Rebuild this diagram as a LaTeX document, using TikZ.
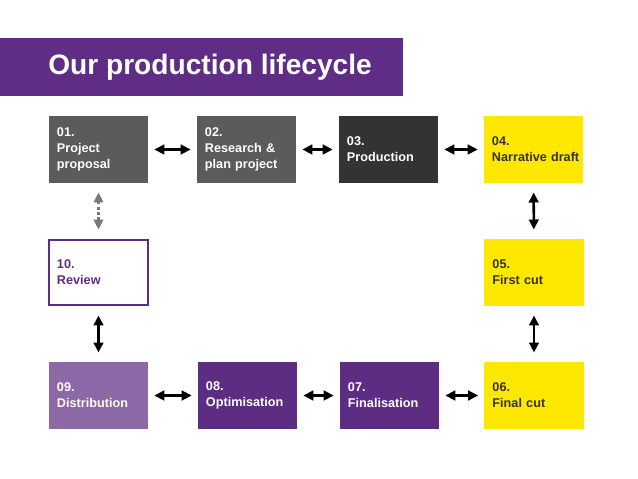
\documentclass[tikz,border=0pt]{standalone}
\usepackage{fontspec}
\setmainfont{Liberation Sans}
\usetikzlibrary{arrows.meta}
\definecolor{titlepurple}{HTML}{5F2C86}
\definecolor{stepgrey}{HTML}{5B5B5B}
\definecolor{stepdark}{HTML}{333333}
\definecolor{stepyellow}{HTML}{FFE800}
\definecolor{steppurple}{HTML}{5C2D83}
\definecolor{steplilac}{HTML}{8C68A6}
\definecolor{arrowgrey}{HTML}{787878}

\begin{document}
\begin{tikzpicture}[x=0.025cm,y=-0.025cm,
	box/.style={minimum width=2.475cm,minimum height=1.675cm,text width=2.075cm,inner xsep=0.2cm,inner ysep=0pt,align=left,font=\bfseries\fontsize{9}{11.4}\selectfont,text=white},
	link/.style={line width=1.8pt,{Triangle[length=2.5mm,width=2.4mm]}-{Triangle[length=2.5mm,width=2.4mm]},shorten >=0.15cm,shorten <=0.15cm},
	vlink/.style={link,shorten >=0.23cm,shorten <=0.23cm}]
	\useasboundingbox (0,0) rectangle (638,479);
	\fill[titlepurple] (0,38) rectangle (403,96);
	\node[anchor=west,inner sep=0pt,text=white,font=\bfseries\fontsize{20}{24}\selectfont] (title) at (48,67) {Our production lifecycle};

	\node[box,fill=stepgrey] (s01) at (98.5,149.5) {01.\\Project\\proposal};
	\node[box,fill=stepgrey] (s02) at (246.5,149.5) {02.\\Research \&\\plan project};
	\node[box,fill=stepdark] (s03) at (388.5,149.5) {03.\\Production};
	\node[box,fill=stepyellow,text=stepdark] (s04) at (533.5,149.5) {04.\\\mbox{Narrative draft}};
	\node[box,fill=stepyellow,text=stepdark] (s05) at (534,272.5) {05.\\First cut};
	\node[box,fill=stepyellow,text=stepdark] (s06) at (534,395.5) {06.\\Final cut};
	\node[box,fill=steppurple] (s07) at (389.5,395.5) {07.\\Finalisation};
	\node[box,fill=steppurple] (s08) at (247.5,395.5) {08.\\Optimisation};
	\node[box,fill=steplilac] (s09) at (98.5,395.5) {09.\\Distribution};
	\node[box,fill=white,draw=steppurple,line width=1.4pt,text=steppurple,minimum width=2.44cm,minimum height=1.64cm] (s10) at (98.5,272.5) {10.\\Review};

	\draw[link] (s01) -- (s02);
	\draw[link] (s02) -- (s03);
	\draw[link] (s03) -- (s04);
	\draw[vlink] (s04) -- (s05);
	\draw[vlink] (s05) -- (s06);
	\draw[link] (s06) -- (s07);
	\draw[link] (s07) -- (s08);
	\draw[link] (s08) -- (s09);
	\draw[vlink] (s09) -- (s10);
	\draw[vlink,arrowgrey,line width=1.5pt,dash pattern=on 0.07cm off 0.06cm] (s10) -- (s01);
\end{tikzpicture}
\end{document}
